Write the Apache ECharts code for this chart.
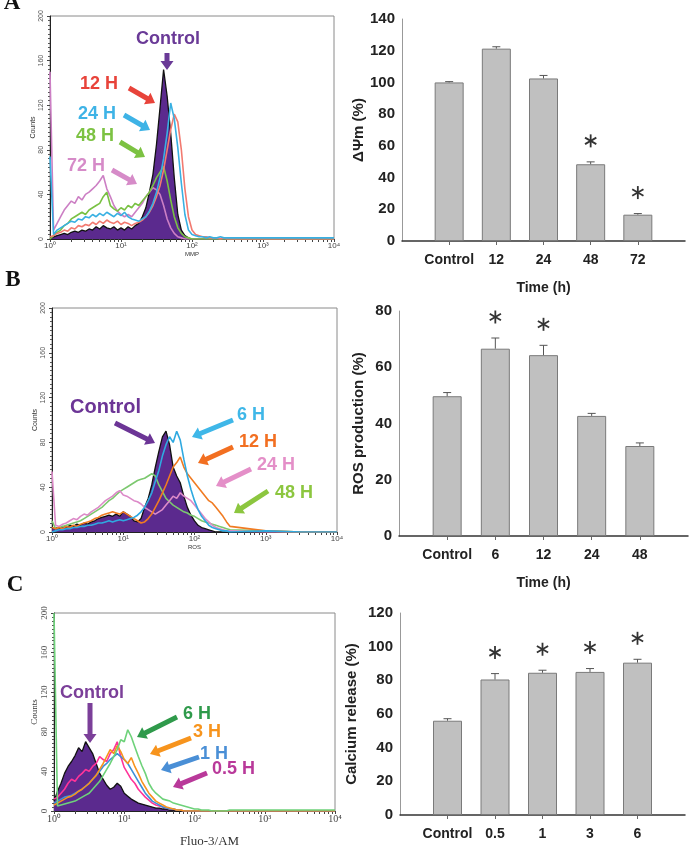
<!DOCTYPE html>
<html>
<head>
<meta charset="utf-8">
<script src="https://cdn.jsdelivr.net/npm/echarts@6.0.0/dist/echarts.min.js"></script>
<style>
html, body { margin: 0; padding: 0; background: #fff; }
#main { width: 694px; height: 851px; }
</style>
</head>
<body>
<div id="main"></div>
<script>
// log10 position of each histogram bin (10^0 .. 10^4)
var chan = [0, 0.05, 0.1, 0.15, 0.2, 0.25, 0.3, 0.35, 0.4, 0.45,
    0.5, 0.55, 0.6, 0.65, 0.7, 0.75, 0.8, 0.85, 0.9, 0.95,
    1, 1.05, 1.1, 1.15, 1.2, 1.25, 1.3, 1.35, 1.4, 1.45,
    1.5, 1.55, 1.6, 1.65, 1.7, 1.75, 1.8, 1.85, 1.9, 1.95,
    2, 2.05, 2.1, 2.15, 2.2, 2.25, 2.3, 2.35, 2.4, 2.45,
    2.5, 3, 3.5, 4];

// panel A histogram (MMP)
var mmpControl = [0, 2, 3, 4, 5, 4, 6, 7, 6, 8,
    7, 9, 8, 11, 9, 12, 10, 9, 11, 8,
    10, 8, 11, 9, 12, 14, 20, 28, 42, 58,
    85, 118, 152, 128, 95, 55, 22, 8, 3, 1,
    0, 0, 0, 0, 0, 0, 0, 0, 0, 0,
    0, 0, 0, 0];
var mmp12 = [2, 3, 5, 6, 8, 7, 10, 9, 12, 11,
    13, 12, 15, 13, 16, 14, 17, 15, 14, 16,
    13, 15, 14, 12, 14, 15, 17, 20, 24, 30,
    38, 48, 62, 80, 98, 112, 105, 80, 45, 20,
    8, 4, 3, 2, 2, 1, 1, 1, 0, 1,
    0, 0, 0, 0];
var mmp24 = [74, 4, 8, 10, 12, 14, 16, 15, 18, 17,
    20, 19, 22, 20, 23, 21, 24, 22, 20, 23,
    21, 24, 20, 18, 17, 16, 18, 20, 25, 32,
    42, 55, 72, 95, 122, 108, 82, 50, 22, 8,
    4, 3, 2, 2, 1, 2, 1, 1, 2, 1,
    1, 1, 1, 1];
var mmp48 = [0, 3, 6, 8, 12, 14, 18, 20, 22, 24,
    22, 26, 28, 30, 32, 38, 42, 30, 27, 25,
    28, 26, 30, 28, 32, 30, 34, 38, 42, 48,
    55, 60, 65, 52, 35, 20, 10, 5, 2, 1,
    0, 0, 0, 0, 0, 0, 0, 0, 0, 0,
    0, 0, 0, 0];
var mmp72 = [150, 8, 14, 20, 26, 30, 34, 32, 38, 35,
    40, 42, 45, 48, 52, 57, 45, 38, 30, 25,
    22, 20, 22, 20, 24, 28, 32, 38, 42, 46,
    44, 40, 30, 18, 10, 5, 2, 1, 0, 0,
    0, 0, 0, 0, 0, 0, 0, 0, 0, 0,
    0, 0, 0, 0];

// panel B histogram (ROS)
var rosControl = [3, 4, 3, 5, 4, 6, 5, 7, 6, 8,
    7, 9, 10, 12, 13, 14, 15, 14, 16, 14,
    18, 16, 14, 10, 9, 12, 22, 30, 42, 58,
    72, 85, 90, 78, 58, 50, 44, 32, 22, 15,
    10, 6, 4, 3, 2, 1, 0, 0, 0, 0,
    0, 0, 0, 0];
var ros6 = [0, 1, 2, 2, 3, 3, 4, 4, 5, 5,
    6, 6, 7, 8, 8, 9, 10, 9, 10, 11,
    10, 11, 12, 13, 15, 18, 22, 28, 35, 45,
    55, 68, 78, 85, 80, 90, 82, 65, 50, 38,
    28, 20, 14, 10, 6, 4, 3, 2, 1, 1,
    0, 1, 0, 0];
var ros12 = [4, 3, 4, 3, 5, 4, 6, 5, 7, 8,
    9, 10, 12, 13, 15, 16, 17, 18, 17, 16,
    18, 16, 14, 12, 10, 8, 9, 12, 16, 22,
    28, 35, 42, 50, 58, 62, 67, 58, 52, 48,
    44, 40, 36, 32, 28, 26, 22, 18, 14, 9,
    5, 1, 0, 0];
var ros24 = [54, 6, 5, 7, 8, 10, 12, 11, 14, 16,
    15, 18, 20, 22, 25, 28, 30, 32, 35, 37,
    33, 32, 30, 28, 27, 25, 22, 20, 18, 16,
    18, 20, 24, 28, 32, 30, 35, 32, 30, 28,
    24, 20, 16, 12, 9, 6, 4, 3, 2, 1,
    1, 0, 0, 0];
var ros48 = [10, 3, 4, 5, 6, 7, 8, 9, 10, 12,
    14, 16, 18, 20, 22, 25, 28, 30, 33, 36,
    38, 40, 42, 44, 46, 47, 48, 50, 52, 50,
    42, 36, 30, 27, 24, 22, 20, 18, 17, 15,
    14, 12, 10, 9, 8, 7, 6, 5, 4, 3,
    2, 1, 0, 0];

// panel C histogram (Fluo-3/AM)
var caControl = [10, 20, 28, 38, 45, 50, 56, 64, 60, 70,
    64, 58, 48, 38, 32, 26, 22, 24, 28, 25,
    18, 15, 12, 10, 8, 7, 6, 5, 4, 3,
    3, 2, 2, 1, 1, 0, 0, 0, 0, 0,
    0, 0, 0, 0, 0, 0, 0, 0, 0, 0,
    0, 0, 0, 0];
var ca05 = [12, 14, 18, 22, 28, 32, 30, 35, 38, 42,
    40, 45, 48, 55, 52, 50, 58, 62, 70, 55,
    44, 38, 32, 28, 22, 18, 14, 11, 8, 6,
    5, 4, 3, 2, 2, 1, 1, 0, 0, 0,
    0, 0, 0, 0, 0, 0, 0, 0, 0, 0,
    0, 0, 0, 0];
var ca1 = [8, 10, 12, 14, 15, 16, 18, 20, 22, 25,
    28, 32, 36, 40, 45, 48, 52, 55, 58, 55,
    52, 48, 42, 36, 30, 24, 18, 14, 10, 8,
    6, 4, 3, 2, 2, 1, 1, 0, 0, 0,
    0, 0, 0, 0, 0, 0, 0, 0, 0, 0,
    0, 0, 0, 0];
var ca3 = [6, 8, 10, 12, 14, 15, 17, 20, 22, 25,
    28, 32, 36, 42, 48, 55, 62, 58, 66, 60,
    52, 48, 54, 45, 38, 30, 24, 18, 14, 10,
    8, 6, 4, 3, 2, 1, 1, 0, 0, 0,
    0, 0, 0, 0, 0, 0, 0, 0, 0, 0,
    0, 0, 0, 0];
var ca6 = [200, 5, 6, 7, 8, 9, 10, 12, 14, 16,
    18, 22, 26, 30, 36, 42, 48, 55, 62, 72,
    70, 82, 75, 65, 55, 46, 38, 28, 22, 18,
    15, 12, 11, 10, 8, 7, 6, 5, 4, 3,
    2, 2, 1, 1, 1, 0, 0, 0, 0, 0,
    1, 1, 1, 1];

// bar charts
var catsA = ['Control', '12', '24', '48', '72'];
var valsA = [100, 121.3, 102.5, 48.4, 16.6];
var errsA = [0.5, 1.2, 1.9, 1.5, 0.7];
var sigA = [0, 0, 0, 1, 1];

var catsB = ['Control', '6', '12', '24', '48'];
var valsB = [49.7, 66.6, 64.3, 42.7, 32];
var errsB = [1.3, 3.8, 3.5, 0.9, 1.1];
var sigB = [0, 1, 1, 0, 0];

var catsC = ['Control', '0.5', '1', '3', '6'];
var valsC = [56, 80.5, 84.5, 85, 90.5];
var errsC = [1.2, 3.5, 1.5, 2, 2];
var sigC = [0, 1, 1, 1, 1];

var SANS = '"Liberation Sans", Arial, sans-serif';
var SERIF = '"Liberation Serif", "Times New Roman", serif';

var chart = echarts.init(document.getElementById('main'));

// log minor ticks 2..9 in every decade
var logTicks = [0, 1, 2, 3, 4];
for (var d = 0; d < 4; d++) {
    for (var k = 2; k < 10; k++) {
        logTicks.push(d + Math.log10(k));
    }
}

function supLabel(v) {
    return '10' + '⁰¹²³⁴'.charAt(Math.round(v));
}

function histXAxis(gi, name, font, size, nameSize, nameGap, namePad) {
    return {
        type: 'value', gridIndex: gi, min: 0, max: 4,
        name: name, nameLocation: 'middle', nameGap: nameGap,
        nameTextStyle: {fontFamily: font, fontSize: nameSize, color: '#333', padding: namePad},
        axisLine: {lineStyle: {color: '#222', width: 1}},
        axisTick: {customValues: logTicks, length: 3, lineStyle: {color: '#444'}},
        axisLabel: {customValues: [0, 1, 2, 3, 4], formatter: supLabel, fontFamily: font, fontSize: size, color: '#444', margin: 3},
        splitLine: {show: false}
    };
}

function histYAxis(gi, font, size, nameSize, nameGap) {
    return {
        type: 'value', gridIndex: gi, min: 0, max: 200, interval: 40,
        name: 'Counts', nameLocation: 'middle', nameGap: nameGap, nameRotate: 90,
        nameTextStyle: {fontFamily: font, fontSize: nameSize, color: '#333'},
        axisLine: {show: true, lineStyle: {color: '#222'}},
        axisTick: {show: true, length: 3, lineStyle: {color: '#444'}},
        minorTick: {show: true, splitNumber: 10, length: 2, lineStyle: {color: '#555'}},
        axisLabel: {rotate: 90, fontFamily: font, fontSize: size, color: '#555', margin: 5},
        splitLine: {show: false}
    };
}

function barXAxis(gi, cats, name) {
    return {
        type: 'value', gridIndex: gi, min: 0, max: 6,
        name: name, nameLocation: 'middle', nameGap: 40,
        nameTextStyle: {fontFamily: SANS, fontWeight: 'bold', fontSize: 14, color: '#222'},
        axisLine: {lineStyle: {color: '#333', width: 1.5}},
        axisTick: {customValues: [1, 2, 3, 4, 5], length: 4, lineStyle: {color: '#666'}},
        axisLabel: {
            customValues: [1, 2, 3, 4, 5],
            formatter: function (v) { return cats[Math.round(v) - 1]; },
            fontFamily: SANS, fontWeight: 'bold', fontSize: 14, color: '#222', margin: 12
        },
        splitLine: {show: false}
    };
}

function barYAxis(gi, max, name, nameGap) {
    return {
        type: 'value', gridIndex: gi, min: 0, max: max, interval: 20,
        name: name, nameLocation: 'middle', nameGap: nameGap, nameRotate: 90,
        nameTextStyle: {fontFamily: SANS, fontWeight: 'bold', fontSize: 15, color: '#222'},
        axisLine: {show: true, lineStyle: {color: '#999'}},
        axisTick: {show: false},
        axisLabel: {fontFamily: SANS, fontWeight: 'bold', fontSize: 15, color: '#222', margin: 7},
        splitLine: {show: false}
    };
}

function histLine(gi, counts, color) {
    return {
        type: 'line', xAxisIndex: gi, yAxisIndex: gi,
        data: chan.map(function (c, i) { return [c, counts[i]]; }),
        showSymbol: false, symbol: 'none', animation: false,
        lineStyle: {color: color, width: 1.6}, z: 3
    };
}

function histFill(gi, counts) {
    return {
        type: 'line', xAxisIndex: gi, yAxisIndex: gi,
        data: chan.map(function (c, i) { return [c, counts[i]]; }),
        showSymbol: false, symbol: 'none', animation: false,
        lineStyle: {color: '#111', width: 1.3},
        areaStyle: {color: '#5b2a8e', opacity: 1}, z: 2
    };
}

function barSeries(gi, vals) {
    return {
        type: 'bar', xAxisIndex: gi, yAxisIndex: gi, barWidth: 29, animation: false,
        data: vals.map(function (v, i) { return [i + 1, v]; }),
        itemStyle: {color: '#c0c0c0', borderColor: '#7a7a7a', borderWidth: 1}
    };
}

function errSeries(gi, vals, errs) {
    return {
        type: 'custom', xAxisIndex: gi, yAxisIndex: gi, animation: false, z: 5,
        data: vals.map(function (v, i) { return [i + 1, v, errs[i]]; }),
        renderItem: function (params, api) {
            var x = api.value(0), v = api.value(1), e = api.value(2);
            var p0 = api.coord([x, v]);
            var p1 = api.coord([x, v + e]);
            var st = {stroke: '#555', lineWidth: 1};
            return {
                type: 'group', children: [
                    {type: 'line', shape: {x1: p0[0], y1: p0[1], x2: p1[0], y2: p1[1]}, style: st},
                    {type: 'line', shape: {x1: p1[0] - 4, y1: p1[1], x2: p1[0] + 4, y2: p1[1]}, style: st}
                ]
            };
        }
    };
}

// significance asterisk, drawn a fixed gap above the error bar
function starSeries(gi, vals, errs, sig) {
    var data = [];
    for (var i = 0; i < vals.length; i++) {
        if (sig[i]) {
            data.push([i + 1, vals[i] + errs[i]]);
        }
    }
    return {
        type: 'custom', xAxisIndex: gi, yAxisIndex: gi, animation: false, z: 6,
        data: data,
        renderItem: function (params, api) {
            var p = api.coord([api.value(0), api.value(1)]);
            var cx = p[0], cy = p[1] - 21, r = 6.5;
            var dx = r * 0.866, dy = r * 0.5;
            var st = {stroke: '#333', lineWidth: 1.8};
            return {
                type: 'group', children: [
                    {type: 'line', shape: {x1: cx, y1: cy - r, x2: cx, y2: cy + r}, style: st},
                    {type: 'line', shape: {x1: cx - dx, y1: cy - dy, x2: cx + dx, y2: cy + dy}, style: st},
                    {type: 'line', shape: {x1: cx - dx, y1: cy + dy, x2: cx + dx, y2: cy - dy}, style: st}
                ]
            };
        }
    };
}

function arrow(x1, y1, x2, y2, color) {
    var w = 5, hw = 13, hl = 9;
    var dx = x2 - x1, dy = y2 - y1;
    var len = Math.sqrt(dx * dx + dy * dy);
    var ux = dx / len, uy = dy / len, nx = -uy, ny = ux;
    var bx = x2 - ux * hl, by = y2 - uy * hl;
    return {
        type: 'polygon', z: 100,
        shape: {
            points: [
                [x1 + nx * w / 2, y1 + ny * w / 2], [bx + nx * w / 2, by + ny * w / 2],
                [bx + nx * hw / 2, by + ny * hw / 2], [x2, y2],
                [bx - nx * hw / 2, by - ny * hw / 2], [bx - nx * w / 2, by - ny * w / 2],
                [x1 - nx * w / 2, y1 - ny * w / 2]
            ]
        },
        style: {fill: color}
    };
}

function label(text, x, y, color, size, align) {
    return {
        type: 'text', z: 100,
        style: {
            text: text, x: x, y: y, fill: color,
            fontFamily: SANS, fontWeight: 'bold', fontSize: size || 18,
            align: align || 'left', verticalAlign: 'middle'
        }
    };
}

function letter(text, x, y) {
    return {
        type: 'text', z: 100,
        style: {
            text: text, x: x, y: y, fill: '#111',
            fontFamily: SERIF, fontWeight: 'bold', fontSize: 23,
            align: 'center', verticalAlign: 'middle'
        }
    };
}

var histGrid = {show: true, borderColor: '#8a8a8a', borderWidth: 1, backgroundColor: 'transparent', outerBoundsMode: 'none'};

var option = {
    backgroundColor: '#fff',
    animation: false,
    grid: [
        Object.assign({left: 50, top: 16, width: 284, height: 223}, histGrid),
        {left: 402, top: 19, width: 283, height: 222, outerBoundsMode: 'none'},
        Object.assign({left: 52, top: 308, width: 285, height: 224}, histGrid),
        {left: 399, top: 311, width: 289, height: 225, outerBoundsMode: 'none'},
        Object.assign({left: 54, top: 613, width: 281, height: 198}, histGrid),
        {left: 400, top: 613, width: 285, height: 202, outerBoundsMode: 'none'}
    ],
    xAxis: [
        histXAxis(0, 'MMP', SANS, 8, 6, 12, 0),
        barXAxis(1, catsA, 'Time (h)'),
        histXAxis(2, 'ROS', SANS, 8, 6, 12, 0),
        barXAxis(3, catsB, 'Time (h)'),
        histXAxis(4, 'Fluo-3/AM', SERIF, 10, 13, 24, [0, 0, 0, 30]),
        barXAxis(5, catsC, '')
    ],
    yAxis: [
        histYAxis(0, SANS, 7, 7, 13),
        barYAxis(1, 140, 'ΔΨm (%)', 36),
        histYAxis(2, SANS, 7, 7, 13),
        barYAxis(3, 80, 'ROS production (%)', 33),
        histYAxis(4, SERIF, 9, 9, 14),
        barYAxis(5, 120, 'Calcium release (%)', 41)
    ],
    series: [
        histFill(0, mmpControl),
        histLine(0, mmp72, '#cc7fc4'),
        histLine(0, mmp48, '#79c143'),
        histLine(0, mmp12, '#f27a70'),
        histLine(0, mmp24, '#38b0e2'),
        barSeries(1, valsA), errSeries(1, valsA, errsA), starSeries(1, valsA, errsA, sigA),

        histFill(2, rosControl),
        histLine(2, ros48, '#7cc86f'),
        histLine(2, ros24, '#dc8ac8'),
        histLine(2, ros12, '#f07b22'),
        histLine(2, ros6, '#2fa9e0'),
        barSeries(3, valsB), errSeries(3, valsB, errsB), starSeries(3, valsB, errsB, sigB),

        histFill(4, caControl),
        histLine(4, ca05, '#ff3399'),
        histLine(4, ca1, '#3d8fd8'),
        histLine(4, ca3, '#f7931e'),
        histLine(4, ca6, '#6ed27a'),
        barSeries(5, valsC), errSeries(5, valsC, errsC), starSeries(5, valsC, errsC, sigC)
    ],
    graphic: [
        letter('A', 12, 3), letter('B', 13, 280), letter('C', 15, 585),

        label('Control', 168, 39, '#6a3a97', 18, 'center'),
        arrow(167, 53, 167, 70, '#6a3a97'),
        label('12 H', 80, 84, '#e8433a'), arrow(129, 88, 155, 103, '#e8433a'),
        label('24 H', 78, 114, '#3eb3e6'), arrow(124, 115, 150, 130, '#3eb3e6'),
        label('48 H', 76, 136, '#7cc242'), arrow(120, 142, 145, 157, '#7cc242'),
        label('72 H', 67, 166, '#d68bc8'), arrow(112, 170, 137, 184, '#d68bc8'),

        label('Control', 70, 407, '#6c3596', 20), arrow(115, 423, 155, 443, '#6c3596'),
        label('6 H', 237, 415, '#3fb7e8'), arrow(233, 420, 192, 437, '#3fb7e8'),
        label('12 H', 239, 442, '#f26f21'), arrow(233, 447, 198, 463, '#f26f21'),
        label('24 H', 257, 465, '#e48fc8'), arrow(251, 469, 216, 486, '#e48fc8'),
        label('48 H', 275, 493, '#8cc63f'), arrow(268, 491, 234, 513, '#8cc63f'),

        label('Control', 60, 693, '#7b3f99'), arrow(90, 703, 90, 743, '#7b3f99'),
        label('6 H', 183, 714, '#2f9a4b'), arrow(177, 717, 137, 737, '#2f9a4b'),
        label('3 H', 193, 732, '#f7941d'), arrow(191, 738, 150, 754, '#f7941d'),
        label('1 H', 200, 754, '#4a8fd6'), arrow(199, 757, 161, 770, '#4a8fd6'),
        label('0.5 H', 212, 769, '#b9399a'), arrow(207, 773, 173, 787, '#b9399a')
    ]
};

chart.setOption(option);
</script>
</body>
</html>
